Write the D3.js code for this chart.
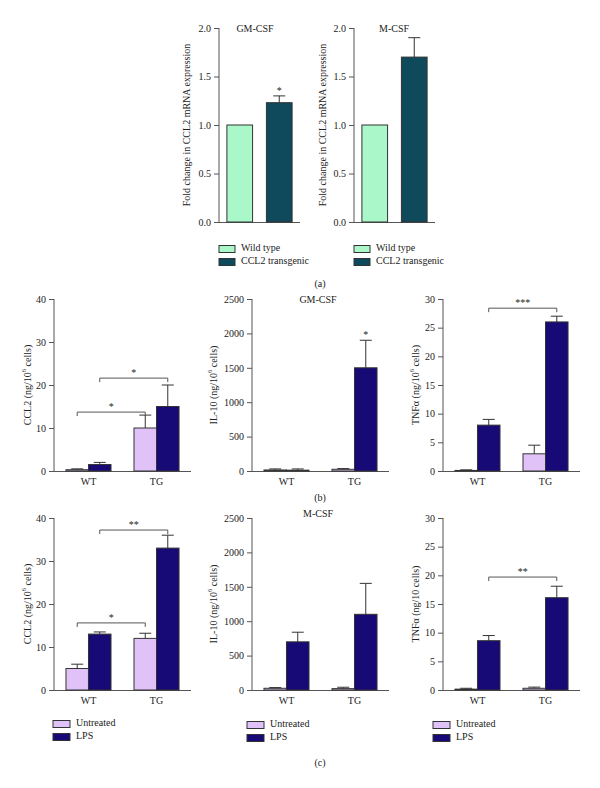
<!DOCTYPE html>
<html><head><meta charset="utf-8">
<script src="https://cdn.jsdelivr.net/npm/d3@7"></script>
<style>
html,body{margin:0;padding:0;background:#fff;}
svg{display:block;}
text{font-family:"Liberation Serif","DejaVu Serif",serif;fill:#222;}
</style></head>
<body><svg id="chart" width="600" height="788"></svg>
<script>
// ---------- Panel (a) data ----------
const aGroups = ["Wild type", "CCL2 transgenic"];
const aTicks = [0, 0.5, 1.0, 1.5, 2.0];
const aGMCSF = [1.0, 1.23];
const aGMCSFErr = [1.0, 1.30];
const aMCSF = [1.0, 1.70];
const aMCSFErr = [1.0, 1.90];
const aColors = ["#aaf7c9", "#0e4a5c"];

// ---------- Panels (b),(c) data ----------
const genotypes = ["WT", "TG"];
const treatments = ["Untreated", "LPS"];
const bcColors = ["#e0c2f8", "#170a76"];
// order: WT-Untreated, WT-LPS, TG-Untreated, TG-LPS
const bCCL2 = [0.3, 1.5, 10, 15];
const bCCL2Err = [0.5, 2.0, 13, 20];
const bIL10 = [15, 12, 25, 1500];
const bIL10Err = [30, 30, 35, 1900];
const bTNF = [0.1, 8, 3, 26];
const bTNFErr = [0.2, 9, 4.5, 27];
const cCCL2 = [5, 13, 12, 33];
const cCCL2Err = [6, 13.5, 13.2, 36];
const cIL10 = [25, 700, 20, 1100];
const cIL10Err = [35, 840, 40, 1550];
const cTNF = [0.15, 8.6, 0.3, 16.1];
const cTNFErr = [0.3, 9.5, 0.5, 18.1];

const ccl2Ticks = [0, 10, 20, 30, 40];
const il10Ticks = [0, 500, 1000, 1500, 2000, 2500];
const tnfTicks = [0, 5, 10, 15, 20, 25, 30];

// significance brackets: [fromBar, toBar, yValue, label]
const bCCL2Sig = [[0, 2, 13.7, "*"], [1, 3, 21.6, "*"]];
const bIL10Sig = [[3, 3, 1900, "*"]];
const bTNFSig = [[1, 3, 28.4, "***"]];
const cCCL2Sig = [[0, 2, 15.6, "*"], [1, 3, 37.2, "**"]];
const cIL10Sig = [];
const cTNFSig = [[1, 3, 19.7, "**"]];
const aGMCSFSig = [[1, 1, 1.30, "*"]];

const svg = d3.select("#chart");
const axisColor = "#555";
const barStroke = "#333";

function styleAxis(g) {
  g.selectAll("path,line").attr("stroke", axisColor).attr("stroke-width", 1);
  g.selectAll("text").attr("font-size", 10).attr("fill", "#222")
    .attr("font-family", '"Liberation Serif","DejaVu Serif",serif');
}

function drawAxes(ax, axW, yTop, y0, yMax, ticks, fmt, ylabel, ylabelX) {
  const y = d3.scaleLinear().domain([0, yMax]).range([y0, yTop]);
  const ga = svg.append("g").attr("transform", `translate(${ax},0)`)
    .call(d3.axisLeft(y).tickValues(ticks).tickFormat(fmt).tickSize(5).tickPadding(3));
  ga.select(".domain").attr("d", `M0,${yTop}V${y0}`);
  styleAxis(ga);
  svg.append("line").attr("x1", ax).attr("x2", ax + axW).attr("y1", y0 + 0.5).attr("y2", y0 + 0.5)
    .attr("stroke", axisColor);
  const ly = (yTop + y0) / 2;
  const t = svg.append("text").attr("transform", `translate(${ylabelX},${ly}) rotate(-90)`)
    .attr("text-anchor", "middle").attr("dominant-baseline", "middle").attr("font-size", 10);
  if (Array.isArray(ylabel)) {
    t.append("tspan").text(ylabel[0]);
    t.append("tspan").attr("font-size", 6.5).attr("dy", -4).text(ylabel[1]);
    t.append("tspan").attr("dy", 4).text(ylabel[2]);
  } else t.text(ylabel);
  return y;
}

function errBar(cx, yv, ye, capW) {
  svg.append("line").attr("x1", cx).attr("x2", cx).attr("y1", yv).attr("y2", ye).attr("stroke", barStroke);
  svg.append("line").attr("x1", cx - capW / 2).attr("x2", cx + capW / 2).attr("y1", ye).attr("y2", ye).attr("stroke", barStroke);
}

function drawSig(sigs, centers, y) {
  sigs.forEach(([a, b, v, lab]) => {
    const yy = y(v);
    if (a !== b) {
      svg.append("path").attr("d", `M${centers[a]},${yy + 4}V${yy}H${centers[b]}V${yy + 4}`)
        .attr("fill", "none").attr("stroke", axisColor);
      svg.append("text").attr("x", (centers[a] + centers[b]) / 2).attr("y", yy - 2)
        .attr("text-anchor", "middle").attr("font-size", 10).text(lab);
    } else {
      svg.append("text").attr("x", centers[a]).attr("y", yy - 2)
        .attr("text-anchor", "middle").attr("font-size", 10).text(lab);
    }
  });
}

function panelA(ax, yTop, y0, vals, errs, sigs, title, titleX, labelX, legendX) {
  const axW = 81;
  const y = drawAxes(ax, axW, yTop, y0, 2.0, aTicks, d3.format(".1f"),
    "Fold change in CCL2 mRNA expression", labelX);
  const x = d3.scaleBand().domain(aGroups).range([ax, ax + axW]).paddingInner(0.35).paddingOuter(0.2);
  const centers = [];
  aGroups.forEach((g, i) => {
    svg.append("rect").attr("x", x(g)).attr("y", y(vals[i])).attr("width", x.bandwidth())
      .attr("height", y(0) - y(vals[i])).attr("fill", aColors[i]).attr("stroke", barStroke);
    const cx = x(g) + x.bandwidth() / 2;
    centers.push(cx);
    if (errs[i] > vals[i]) errBar(cx, y(vals[i]), y(errs[i]), 12);
  });
  drawSig(sigs, centers, y);
  svg.append("text").attr("x", titleX).attr("y", yTop + 4).attr("text-anchor", "middle")
    .attr("font-size", 10).text(title);
  aGroups.forEach((g, i) => {
    const ly = 249 + i * 13;
    svg.append("rect").attr("x", legendX).attr("y", ly - 3.5).attr("width", 16).attr("height", 7)
      .attr("fill", aColors[i]).attr("stroke", barStroke);
    svg.append("text").attr("x", legendX + 22).attr("y", ly).attr("dominant-baseline", "middle")
      .attr("font-size", 10).text(g);
  });
}

function panelBC(ax, yTop, y0, yMax, ticks, vals, errs, sigs, ylabel, labelX) {
  const axW = 137;
  const y = drawAxes(ax, axW, yTop, y0, yMax, ticks, d3.format("d"), ylabel, labelX);
  const x = d3.scaleBand().domain(genotypes).range([ax, ax + axW]).paddingInner(0.338).paddingOuter(0.176);
  const xs = d3.scaleBand().domain(treatments).range([0, x.bandwidth()]);
  const centers = [];
  genotypes.forEach((g, gi) => {
    treatments.forEach((t, ti) => {
      const k = gi * 2 + ti;
      const bx = x(g) + xs(t);
      svg.append("rect").attr("x", bx).attr("y", y(vals[k])).attr("width", xs.bandwidth())
        .attr("height", Math.max(0, y(0) - y(vals[k]))).attr("fill", bcColors[ti]).attr("stroke", barStroke);
      const cx = bx + xs.bandwidth() / 2;
      centers.push(cx);
      errBar(cx, y(vals[k]), y(errs[k]), 12);
    });
    svg.append("text").attr("x", x(g) + x.bandwidth() / 2).attr("y", y0 + 14)
      .attr("text-anchor", "middle").attr("font-size", 10).text(g);
  });
  drawSig(sigs, centers, y);
}

function legendBC(lx, ly) {
  treatments.forEach((t, i) => {
    const yy = ly + i * 13;
    svg.append("rect").attr("x", lx).attr("y", yy - 3.5).attr("width", 17).attr("height", 7)
      .attr("fill", bcColors[i]).attr("stroke", barStroke);
    svg.append("text").attr("x", lx + 23).attr("y", yy).attr("dominant-baseline", "middle")
      .attr("font-size", 10).text(t);
  });
}

// Panel (a)
panelA(219, 28, 222, aGMCSF, aGMCSFErr, aGMCSFSig, "GM-CSF", 255, 188, 219);
panelA(354, 28, 222, aMCSF, aMCSFErr, [], "M-CSF", 394, 324, 354);
svg.append("text").attr("x", 320).attr("y", 287).attr("text-anchor", "middle").attr("font-size", 10).text("(a)");

// Panel (b)
const lab6 = s => [s + " (ng/10", "6", " cells)"];
panelBC(54, 299, 471, 40, ccl2Ticks, bCCL2, bCCL2Err, bCCL2Sig, lab6("CCL2"), 29);
panelBC(252, 299, 471, 2500, il10Ticks, bIL10, bIL10Err, bIL10Sig, lab6("IL-10"), 215);
panelBC(443, 299, 471, 30, tnfTicks, bTNF, bTNFErr, bTNFSig, lab6("TNFα"), 417);
svg.append("text").attr("x", 318).attr("y", 303).attr("text-anchor", "middle").attr("font-size", 10).text("GM-CSF");
svg.append("text").attr("x", 320).attr("y", 501).attr("text-anchor", "middle").attr("font-size", 10).text("(b)");

// Panel (c)
panelBC(54, 518, 690, 40, ccl2Ticks, cCCL2, cCCL2Err, cCCL2Sig, lab6("CCL2"), 29);
panelBC(252, 518, 690, 2500, il10Ticks, cIL10, cIL10Err, cIL10Sig, lab6("IL-10"), 215);
panelBC(443, 518, 690, 30, tnfTicks, cTNF, cTNFErr, cTNFSig, "TNFα (ng/10  cells)", 417);
svg.append("text").attr("x", 318).attr("y", 517).attr("text-anchor", "middle").attr("font-size", 10).text("M-CSF");
legendBC(53, 724);
legendBC(247, 725);
legendBC(433, 725);
svg.append("text").attr("x", 320).attr("y", 766).attr("text-anchor", "middle").attr("font-size", 10).text("(c)");
</script></body></html>
